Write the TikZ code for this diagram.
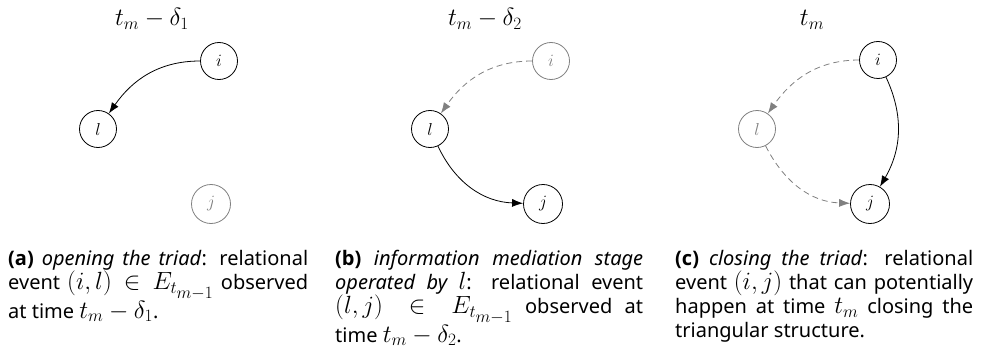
\documentclass[tikz,border=0pt]{standalone}
\usepackage{fontspec}
\setmainfont{Noto Sans}
\newfontfamily\capbf{Open Sans}
\usetikzlibrary{arrows.meta}
\hyphenpenalty=10000
\exhyphenpenalty=10000
\lineskiplimit=-20pt
\newcommand\capmath[1]{{\fontsize{24}{24}\selectfont$#1$}}
\newcommand\sublabel[1]{{\capbf\bfseries (#1)}}
\tikzset{
  vert/.style={circle, draw=black, line width=0.8pt, minimum size=37pt, inner sep=0pt, font=\fontsize{17}{19}\selectfont},
  faded/.style={vert, draw=black!50, text=black!50},
  solidedge/.style={line width=0.8pt, draw=black, -{Latex[length=11pt,width=8pt]}},
  dashededge/.style={line width=0.8pt, draw=black!50, dash pattern=on 6pt off 4pt, -{Latex[length=11pt,width=8pt]}},
  ttl/.style={anchor=base, font=\fontsize{25}{28}\selectfont, inner sep=0pt},
  capt/.style={anchor=north west, align=justify, inner sep=0pt, font=\fontsize{20}{24}\selectfont}
}
\begin{document}
\begin{tikzpicture}[x=1pt,y=-1pt]
\useasboundingbox (0,0) rectangle (983,353);
% panel a
\node[ttl] (ta) at (152,26) {$t_m-\delta_1$};
\node[vert] (ai) at (219,61) {$i$};
\node[vert] (al) at (98,129) {$l$};
\node[faded, minimum size=39pt] (aj) at (211,204) {$j$};
\draw[solidedge] (ai) to[out=180,in=55] (al);
% panel b
\node[ttl] (tb) at (485,26) {$t_m-\delta_2$};
\node[faded] (bi) at (551,61) {$i$};
\node[vert] (bl) at (430,129) {$l$};
\node[vert, minimum size=39pt] (bj) at (543,204) {$j$};
\draw[dashededge] (bi) to[out=180,in=55] (bl);
\draw[solidedge] (bl) to[out=-65,in=178] (bj);
% panel c
\node[ttl] (tc) at (812,26) {$t_m$};
\node[vert] (ci) at (878,60) {$i$};
\node[faded] (cl) at (757,129) {$l$};
\node[vert, minimum size=39pt] (cj) at (870,204) {$j$};
\draw[dashededge] (ci) to[out=180,in=55] (cl);
\draw[dashededge] (cl) to[out=-63,in=178] (cj);
\draw[solidedge] (ci) to[out=-65,in=60] (cj);
% captions
\node[capt, text width=300pt] (ca) at (8,250) {\sublabel{a} \textit{opening the triad}: relational\linebreak event \capmath{(i,l)\in E_{t_{\scriptstyle m-1}}} observed\linebreak at time \capmath{t_m-\delta_1}.};
\node[capt, text width=308pt] (cb) at (335,250) {\sublabel{b} \textit{information mediation stage}\linebreak \textit{operated by \capmath{l}}: relational event\linebreak \capmath{(l,j)\in E_{t_{\scriptstyle m-1}}} observed at\linebreak time \capmath{t_m-\delta_2}.};
\node[capt, text width=298pt] (cc) at (675,250) {\sublabel{c} \textit{closing the triad}: relational\linebreak event \capmath{(i,j)} that can potentially\linebreak happen at time \capmath{t_m} closing the\linebreak triangular structure.};
\end{tikzpicture}
\end{document}
